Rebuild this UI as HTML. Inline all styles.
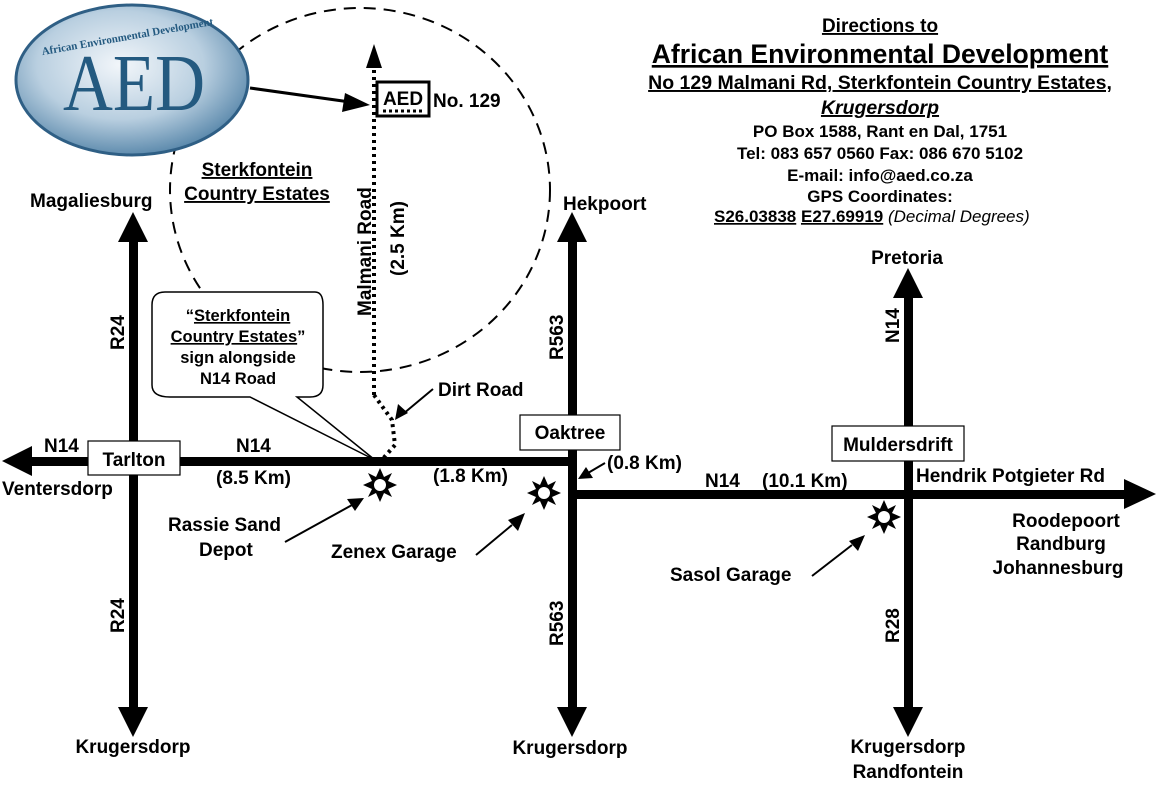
<!DOCTYPE html>
<html><head><style>body{margin:0;background:#fff}svg{display:block}text{font-family:"Liberation Sans",Arial,sans-serif;font-weight:bold;font-size:19px;fill:#000}</style></head><body>
<svg width="1156" height="799" viewBox="0 0 1156 799" xmlns="http://www.w3.org/2000/svg">
<defs>
<radialGradient id="g" cx="0.45" cy="0.4" r="0.6"><stop offset="0" stop-color="#f2f6fa"/><stop offset="0.6" stop-color="#b9cfe0"/><stop offset="1" stop-color="#5f8cae"/></radialGradient>
<g id="star"><polygon points="0,-17 4,-8 12,-12 8,-4 17,0 8,4 12,12 4,8 0,17 -4,8 -12,12 -8,4 -17,0 -8,-4 -12,-12 -4,-8" fill="#000"/><circle r="6" fill="#fff"/></g>
</defs>
<ellipse cx="360" cy="190" rx="190" ry="182" fill="none" stroke="#000" stroke-width="2" stroke-dasharray="12,8"/>
<ellipse cx="132" cy="80" rx="116" ry="75" fill="url(#g)" stroke="#2f5f85" stroke-width="3"/>
<text x="134" y="110" text-anchor="middle" textLength="142" lengthAdjust="spacingAndGlyphs" style="font-family:'Liberation Serif',serif;font-weight:normal;font-size:80px;fill:#245a80">AED</text>
<text x="128" y="40" text-anchor="middle" style="font-family:'Liberation Serif',serif;font-size:11px;fill:#245a80" transform="rotate(-10 128 40)">African Environmental Development</text>
<g fill="#000">
<rect x="22" y="457" width="555" height="9"/><polygon points="2,461 32,446 32,476"/>
<rect x="568" y="490" width="560" height="9"/><polygon points="1156,494 1124,479 1124,509"/>
<rect x="129" y="238" width="9" height="475"/><polygon points="133,212 118,242 148,242"/><polygon points="133,737 118,707 148,707"/>
<rect x="568" y="238" width="9" height="475"/><polygon points="572,212 557,242 587,242"/><polygon points="572,737 557,707 587,707"/>
<rect x="904" y="292" width="9" height="420"/><polygon points="908,268 893,298 923,298"/><polygon points="908,737 893,707 923,707"/>
</g>
<path d="M374,395 L374,65 M374,395 L392,420 L395,445 L380,462" fill="none" stroke="#000" stroke-width="4" stroke-dasharray="3,4"/>
<polygon points="374,44 366,68 382,68" fill="#000"/>
<line x1="250" y1="88" x2="350" y2="102" stroke="#000" stroke-width="3"/><polygon points="370,105 345,93 342,112" fill="#000"/>
<rect x="377" y="82" width="52" height="34" fill="#fff" stroke="#000" stroke-width="3"/>
<text x="403" y="105" text-anchor="middle">AED</text>
<line x1="383" y1="111" x2="422" y2="111" stroke="#000" stroke-width="3" stroke-dasharray="3,3"/>
<text x="433" y="107">No. 129</text>
<path d="M165,292 H315 Q323,292 323,305 V385 Q323,397 310,397 H297 L375,460 L250,397 H170 Q152,397 152,385 V305 Q152,292 165,292 Z" fill="#fff" stroke="#000" stroke-width="1.5"/>
<g text-anchor="middle">
<text x="238" y="321" style="font-size:16.5px">“<tspan text-decoration="underline">Sterkfontein</tspan></text>
<text x="238" y="342" style="font-size:16.5px"><tspan text-decoration="underline">Country Estates</tspan>”</text>
<text x="238" y="363" style="font-size:16.5px">sign alongside</text>
<text x="238" y="384" style="font-size:16.5px">N14 Road</text>
</g>
<text x="257" y="176" text-anchor="middle" text-decoration="underline">Sterkfontein</text>
<text x="257" y="200" text-anchor="middle" text-decoration="underline">Country Estates</text>
<text x="30" y="207">Magaliesburg</text>
<text x="563" y="210">Hekpoort</text>
<text x="907" y="264" text-anchor="middle">Pretoria</text>
<text transform="translate(371 316) rotate(-90)">Malmani Road</text>
<text transform="translate(404 276) rotate(-90)">(2.5 Km)</text>
<text transform="translate(124 350) rotate(-90)">R24</text>
<text transform="translate(124 633) rotate(-90)">R24</text>
<text transform="translate(563 360) rotate(-90)">R563</text>
<text transform="translate(563 646) rotate(-90)">R563</text>
<text transform="translate(899 343) rotate(-90)">N14</text>
<text transform="translate(899 643) rotate(-90)">R28</text>
<rect x="88" y="441" width="92" height="34" fill="#fff" stroke="#000" stroke-width="1.2"/><text x="134" y="466" text-anchor="middle">Tarlton</text>
<rect x="520" y="415" width="100" height="35" fill="#fff" stroke="#000" stroke-width="1.2"/><text x="570" y="439" text-anchor="middle">Oaktree</text>
<rect x="832" y="426" width="132" height="35" fill="#fff" stroke="#000" stroke-width="1.2"/><text x="898" y="451" text-anchor="middle">Muldersdrift</text>
<text x="44" y="452">N14</text>
<text x="236" y="452">N14</text>
<text x="2" y="495">Ventersdorp</text>
<text x="216" y="484">(8.5 Km)</text>
<text x="433" y="482">(1.8 Km)</text>
<text x="607" y="469">(0.8 Km)</text>
<text x="705" y="487">N14</text>
<text x="762" y="487">(10.1 Km)</text>
<text x="916" y="482">Hendrik Potgieter Rd</text>
<text x="1066" y="527" text-anchor="middle">Roodepoort</text>
<text x="1061" y="550" text-anchor="middle">Randburg</text>
<text x="1058" y="574" text-anchor="middle">Johannesburg</text>
<text x="438" y="396">Dirt Road</text>
<text x="168" y="531">Rassie Sand</text>
<text x="199" y="556">Depot</text>
<text x="331" y="558">Zenex Garage</text>
<text x="670" y="581">Sasol Garage</text>
<text x="133" y="753" text-anchor="middle">Krugersdorp</text>
<text x="570" y="754" text-anchor="middle">Krugersdorp</text>
<text x="908" y="753" text-anchor="middle">Krugersdorp</text>
<text x="908" y="778" text-anchor="middle">Randfontein</text>
<use href="#star" x="380" y="485"/><use href="#star" x="544" y="493"/><use href="#star" x="884" y="517"/>
<g stroke="#000" stroke-width="2" fill="none">
<line x1="433" y1="389" x2="403" y2="414"/><line x1="285" y1="542" x2="352" y2="505"/><line x1="476" y1="555" x2="512" y2="525"/><line x1="812" y1="576" x2="852" y2="545"/><line x1="605" y1="463" x2="588" y2="473"/>
</g>
<g fill="#000">
<polygon points="395,420 398,404 408,413"/><polygon points="364,498 347,499 355,511"/><polygon points="525,513 508,520 518,531"/><polygon points="865,535 849,541 858,551"/><polygon points="578,479 586,467 593,478"/>
</g>
<g text-anchor="middle">
<text x="880" y="32" text-decoration="underline">Directions to</text>
<text x="880" y="63" style="font-size:26.5px" text-decoration="underline">African Environmental Development</text>
<text x="880" y="89" style="font-size:19.5px" text-decoration="underline">No 129 Malmani Rd, Sterkfontein Country Estates,</text>
<text x="880" y="114" style="font-size:19.5px;font-style:italic" text-decoration="underline">Krugersdorp</text>
<text x="880" y="137" style="font-size:17px">PO Box 1588, Rant en Dal, 1751</text>
<text x="880" y="159" style="font-size:17px">Tel: 083 657 0560 Fax: 086 670 5102</text>
<text x="880" y="181" style="font-size:17px">E-mail: info@aed.co.za</text>
<text x="880" y="202" style="font-size:17px">GPS Coordinates:</text>
</g>
<text x="714" y="222" style="font-size:17px"><tspan text-decoration="underline">S26.03838</tspan> <tspan text-decoration="underline">E27.69919</tspan> <tspan style="font-weight:normal;font-style:italic">(Decimal Degrees)</tspan></text>
</svg>
</body></html>
